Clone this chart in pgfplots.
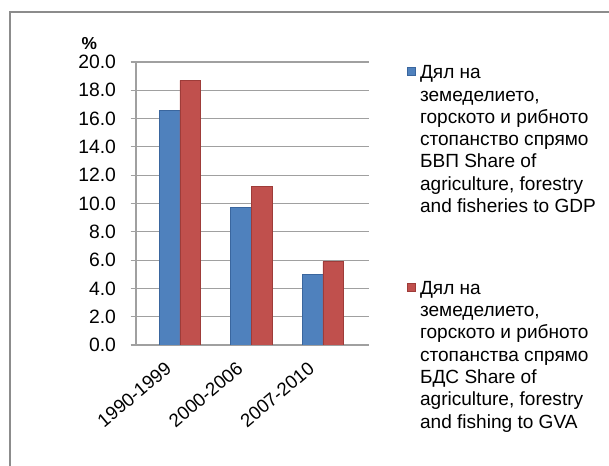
\documentclass[border=0pt]{standalone}
\usepackage{pgfplots}
\pgfplotsset{compat=1.18}
\usepackage{fontspec}
\setmainfont{Liberation Sans}
\definecolor{barblue}{HTML}{4F81BD}
\definecolor{barred}{HTML}{C0504D}
\definecolor{blueedge}{HTML}{3A669E}
\definecolor{rededge}{HTML}{9E3C39}
\definecolor{gridgray}{HTML}{A0A0A0}
\definecolor{framegray}{HTML}{8C8C8C}
\begin{document}
\begin{tikzpicture}
\useasboundingbox (0,0) rectangle (456.75pt,349.5pt);
\fill[white] (0,0) rectangle (456.75pt,349.5pt);
\draw[framegray, line width=1.6pt] (7.5pt,-5pt) -- (7.5pt,340.5pt) -- (470pt,340.5pt);
\begin{axis}[
  name=ax,
  at={(102pt,90.75pt)}, anchor=south west,
  scale only axis, width=174.75pt, height=212.25pt,
  ymin=0, ymax=20, ytick={0,2,...,20},
  xmin=-0.615, xmax=2.645,
  xtick={0,1,2},
  xticklabels={1990-1999,2000-2006,2007-2010},
  minor xtick={0.5,1.5,2.5},
  axis lines=left,
  axis line style={-, gridgray, line width=0.8pt},
  ymajorgrids, major grid style={gridgray, line width=0.8pt},
  tick align=outside,
  ytick style={gridgray, line width=0.8pt},
  major tick length=4pt,
  xtick style={draw=none},
  minor tick style={gridgray, line width=0.8pt},
  minor tick length=4pt,
  tick label style={font=\fontsize{14.5}{16}\selectfont},
  yticklabel style={xshift=-7.5pt, /pgf/number format/.cd, fixed, fixed zerofill, precision=1, assume math mode=true},
  xticklabel style={inner sep=0pt, xshift=-8.5pt, yshift=-11.5pt, rotate=40, anchor=east, font=\fontsize{14}{16}\selectfont},
  ybar=0pt, bar width=0.29,
  legend style={draw=none, fill=none, at={(1.163,0.989)}, anchor=north west,
    inner sep=0pt, row sep=50pt, column sep=3pt,
    nodes={inner sep=0pt},
    cells={anchor=north west, align=left},
    font=\fontsize{14.3}{16.7}\selectfont},
  legend image code/.code={\fill[#1] (0pt,-1.5pt) rectangle (6pt,-7.5pt);},
]
\addplot[draw=blueedge, line width=0.6pt, fill=barblue]
  coordinates {(0,16.6) (1,9.7) (2,5.0)};
\addlegendentry{Дял на\\земеделието,\\горското и рибното\\стопанство спрямо\\БВП Share of\\agriculture, forestry\\and fisheries to GDP}
\addplot[draw=rededge, line width=0.6pt, fill=barred]
  coordinates {(0,18.7) (1,11.2) (2,5.9)};
\addlegendentry{Дял на\\земеделието,\\горското и рибното\\стопанства спрямо\\БДС Share of\\agriculture, forestry\\and fishing to GVA}
\end{axis}
\node[font=\bfseries\fontsize{13}{15}\selectfont] at (ax.north west) [xshift=-35pt, yshift=14pt] {\%};
\end{tikzpicture}
\end{document}
